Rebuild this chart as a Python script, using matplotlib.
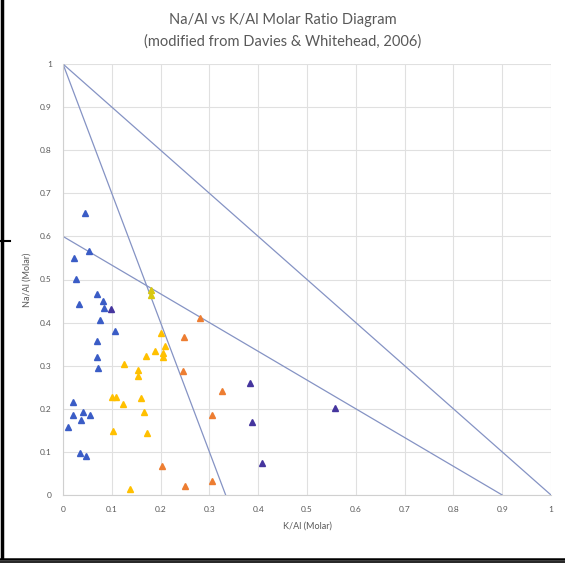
import numpy as np
import matplotlib
matplotlib.use("Agg")
import matplotlib.pyplot as plt
from matplotlib.lines import Line2D

# sample groups (K/Al, Na/Al)
blue_k = [0.045, 0.054, 0.023, 0.027, 0.033, 0.069, 0.081, 0.085, 0.076, 0.107,
          0.069, 0.070, 0.072, 0.021, 0.020, 0.040, 0.055, 0.036, 0.011, 0.035, 0.047]
blue_na = [0.655, 0.566, 0.549, 0.501, 0.442, 0.466, 0.450, 0.435, 0.406, 0.380,
           0.357, 0.321, 0.294, 0.216, 0.186, 0.193, 0.186, 0.174, 0.157, 0.097, 0.091]

indigo_k = [0.098, 0.383, 0.387, 0.407, 0.558]
indigo_na = [0.431, 0.259, 0.169, 0.074, 0.203]

yellow_k = [0.200, 0.208, 0.188, 0.204, 0.204, 0.170, 0.125, 0.154, 0.154, 0.101,
            0.109, 0.122, 0.160, 0.166, 0.102, 0.173, 0.137]
yellow_na = [0.377, 0.346, 0.334, 0.329, 0.321, 0.323, 0.303, 0.290, 0.276, 0.228,
             0.227, 0.211, 0.224, 0.193, 0.148, 0.144, 0.013]

olive_k = [0.180, 0.180]
olive_na = [0.476, 0.464]

orange_k = [0.281, 0.247, 0.245, 0.325, 0.305, 0.203, 0.250, 0.306]
orange_na = [0.410, 0.366, 0.288, 0.241, 0.186, 0.067, 0.022, 0.033]

# field boundaries
boundaries = [([0, 1 / 3], [1, 0]), ([0, 1], [1, 0]), ([0, 0.9], [0.6, 0])]

ticks = np.round(np.arange(0, 1.01, 0.1), 1)
tick_labels = ["0", "0.1", "0.2", "0.3", "0.4", "0.5", "0.6", "0.7", "0.8", "0.9", "1"]

plt.rcParams['font.family'] = ['Lato', 'DejaVu Sans']
grey = "#595959"

fig = plt.figure(figsize=(5.65, 5.64), dpi=100)
ax = fig.add_axes([63 / 565, 69 / 564, 488 / 565, 431 / 564])

ax.grid(True, color="#E0E0E0", linewidth=0.8)
ax.set_axisbelow(True)

for xs, ys in boundaries:
    ax.plot(xs, ys, color="#8593C4", linewidth=0.9, zorder=2)

style = dict(marker="^", linestyle="none", markersize=4.6, zorder=3, clip_on=False)
ax.plot(blue_k, blue_na, color="#3A5CC6", **style)
ax.plot(indigo_k, indigo_na, color="#45359E", **style)
ax.plot(yellow_k, yellow_na, color="#FFC000", **style)
ax.plot(olive_k, olive_na, color="#D8C810", **style)
ax.plot(orange_k, orange_na, color="#ED7D31", **style)

ax.set_xlim(0, 1)
ax.set_ylim(0, 1)
ax.set_xticks(ticks)
ax.set_yticks(ticks)
ax.set_xticklabels(tick_labels)
ax.set_yticklabels(tick_labels)
ax.tick_params(length=0, labelsize=6, labelcolor=grey, pad=8)
for side in ["top", "right"]:
    ax.spines[side].set_visible(False)
for side in ["left", "bottom"]:
    ax.spines[side].set_color("#D0D0D0")
    ax.spines[side].set_linewidth(0.8)

ax.set_xlabel("K/Al (Molar)", fontsize=6.5, color=grey, labelpad=6)
ax.set_ylabel("Na/Al (Molar)", fontsize=6.5, color=grey, labelpad=6)

fig.text(0.5, 1 - 20 / 564, "Na/Al vs K/Al Molar Ratio Diagram", ha="center", va="center",
         fontsize=10.5, color=grey)
fig.text(0.5, 1 - 42 / 564, "(modified from Davies & Whitehead, 2006)", ha="center",
         va="center", fontsize=10.5, color=grey)

# screenshot frame edges
fig.add_artist(Line2D([1.5 / 565, 1.5 / 565], [1, 1 - 557 / 564], color="black", linewidth=2.5))
fig.add_artist(Line2D([0, 10 / 565], [1 - 241 / 564, 1 - 241 / 564], color="black", linewidth=1.5))
fig.add_artist(Line2D([0, 1], [1 - 558.5 / 564, 1 - 558.5 / 564], color="black", linewidth=1.8))
fig.add_artist(Line2D([0, 1], [1 - 561.5 / 564, 1 - 561.5 / 564], color="black", linewidth=1.2))

fig.savefig("out.png", dpi=100)
